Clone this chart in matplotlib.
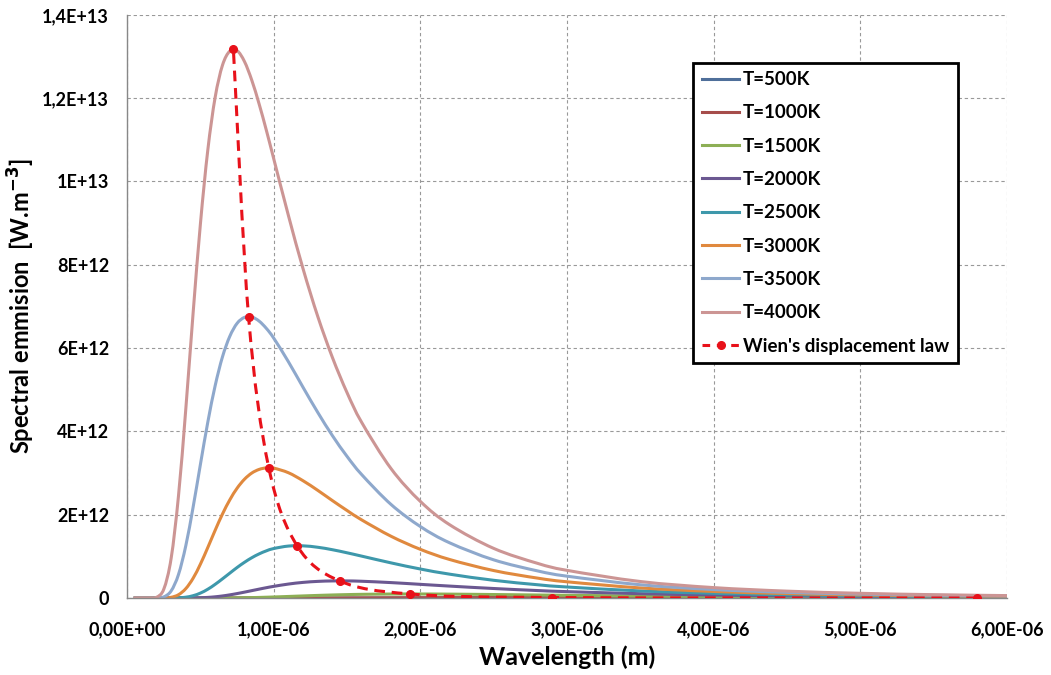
import matplotlib.pyplot as plt
import numpy as np
from matplotlib.path import Path
from matplotlib.patches import PathPatch
from matplotlib.lines import Line2D

# Wavelength [um] and spectral emission (in units of 1e12 W/m^3)
wavelength_um = [0.05, 0.1, 0.15, 0.2, 0.25, 0.3, 0.35, 0.4, 0.45, 0.5, 0.55, 0.6, 0.65, 0.7, 0.75,
                 0.8, 0.85, 0.9, 0.95, 1.0, 1.1, 1.2, 1.3, 1.4, 1.5, 1.6, 1.8, 2.0, 2.2, 2.5,
                 2.8, 3.0, 3.5, 4.0, 4.5, 5.0, 5.5, 6.0]

T500 = [0, 0, 0, 0, 0, 0, 0, 0, 0, 0, 0, 0, 0, 0, 0,
        0, 0, 0, 0, 0, 0, 0, 0, 0, 0, 0, 0, 0, 0, 0.00004,
        0.00008, 0.0001, 0.00019, 0.00028, 0.00034, 0.00038, 0.0004, 0.0004]
T1000 = [0, 0, 0, 0, 0, 0, 0, 0, 0, 0, 0, 0, 0, 0, 0,
         0, 0, 0, 0.0001, 0.0002, 0.0005, 0.0009, 0.0016, 0.0024, 0.0034, 0.0044, 0.0067, 0.0088, 0.0105, 0.0122,
         0.0128, 0.0128, 0.0119, 0.0103, 0.0086, 0.0071, 0.0059, 0.0048]
T1500 = [0, 0, 0, 0, 0, 0, 0, 0, 0, 0, 0, 0.0006, 0.0013, 0.0025, 0.0045,
         0.0071, 0.0105, 0.0149, 0.0199, 0.0255, 0.038, 0.0508, 0.063, 0.0737, 0.0824, 0.0891, 0.0965, 0.0974, 0.094, 0.0844,
         0.0731, 0.0656, 0.0491, 0.0365, 0.0273, 0.0206, 0.0158, 0.0122]
T2000 = [0, 0, 0, 0, 0, 0, 0.0001, 0.0006, 0.0023, 0.0068, 0.0155, 0.0299, 0.0503, 0.0766, 0.1077,
         0.142, 0.178, 0.214, 0.249, 0.281, 0.336, 0.376, 0.400, 0.411, 0.411, 0.403, 0.371, 0.329, 0.287, 0.229,
         0.180, 0.154, 0.105, 0.0725, 0.0514, 0.0372, 0.0275, 0.0208]
T2500 = [0, 0, 0, 0, 0, 0.0007, 0.0051, 0.0206, 0.0566, 0.120, 0.212, 0.329, 0.461, 0.598, 0.734,
         0.858, 0.968, 1.060, 1.134, 1.189, 1.248, 1.253, 1.219, 1.160, 1.086, 1.006, 0.844, 0.697, 0.573, 0.426,
         0.319, 0.265, 0.171, 0.114, 0.078, 0.055, 0.040, 0.030]
T3000 = [0, 0, 0, 0, 0.0018, 0.0176, 0.0797, 0.227, 0.477, 0.818, 1.214, 1.626, 2.017, 2.357, 2.638,
         2.852, 3.001, 3.088, 3.125, 3.118, 3.008, 2.815, 2.585, 2.339, 2.101, 1.875, 1.483, 1.169, 0.925, 0.660,
         0.478, 0.390, 0.243, 0.158, 0.107, 0.074, 0.053, 0.039]
T3500 = [0, 0, 0, 0.0014, 0.0277, 0.172, 0.565, 1.258, 2.187, 3.218, 4.223, 5.096, 5.79, 6.283, 6.596,
         6.737, 6.747, 6.648, 6.470, 6.237, 5.671, 5.056, 4.456, 3.898, 3.399, 2.962, 2.246, 1.716, 1.325, 0.917,
         0.651, 0.525, 0.319, 0.204, 0.136, 0.094, 0.067, 0.049]
T4000 = [0, 0, 0.0002, 0.018, 0.216, 0.956, 2.452, 4.544, 6.854, 9.0, 10.755, 12.018, 12.79, 13.13, 13.14,
         12.88, 12.43, 11.86, 11.22, 10.54, 9.18, 7.90, 6.76, 5.774, 4.928, 4.214, 3.106, 2.319, 1.759, 1.192,
         0.832, 0.665, 0.397, 0.251, 0.166, 0.114, 0.081, 0.059]

labels = ["T=500K", "T=1000K", "T=1500K", "T=2000K", "T=2500K", "T=3000K", "T=3500K", "T=4000K"]
colors = ["#4F6F9A", "#A64D4B", "#8DAF55", "#6B5891", "#3E98AB", "#E0893E", "#8EA8CC", "#CC9594"]
series = [T500, T1000, T1500, T2000, T2500, T3000, T3500, T4000]

# Wien's displacement law points (peak of each curve)
wien_um = [5.796, 2.898, 1.932, 1.449, 1.159, 0.966, 0.828, 0.7245]
wien_val = [0.0004, 0.0129, 0.0977, 0.4116, 1.256, 3.125, 6.755, 13.17]
wien_label = "Wien's displacement law"

xticks = [0, 1e-6, 2e-6, 3e-6, 4e-6, 5e-6, 6e-6]
xtick_labels = ["0,00E+00", "1,00E-06", "2,00E-06", "3,00E-06", "4,00E-06", "5,00E-06", "6,00E-06"]
yticks = [0, 2e12, 4e12, 6e12, 8e12, 1e13, 1.2e13, 1.4e13]
ytick_labels = ["0", "2E+12", "4E+12", "6E+12", "8E+12", "1E+13", "1,2E+13", "1,4E+13"]


def smooth_path(x, y):
    # smoothed line through the points (cubic Bezier segments, like a spreadsheet "smoothed line")
    p = np.column_stack([x, y])
    n = len(p)
    verts = [p[0]]
    codes = [Path.MOVETO]
    for i in range(n - 1):
        t0 = (p[min(i + 1, n - 1)] - p[max(i - 1, 0)]) / 2
        t1 = (p[min(i + 2, n - 1)] - p[i]) / 2
        verts += [p[i] + t0 / 3, p[i + 1] - t1 / 3, p[i + 1]]
        codes += [Path.CURVE4] * 3
    return Path(verts, codes)


plt.rcParams['font.family'] = ['Lato', 'DejaVu Sans']
plt.rcParams['font.weight'] = 'bold'

fig = plt.figure(figsize=(10.51, 6.75), dpi=100)
ax = fig.add_axes([0.121, 0.114, 0.837, 0.864])

lam = np.array(wavelength_um) * 1e-6
handles = []
for vals, lab, col in zip(series, labels, colors):
    ax.add_patch(PathPatch(smooth_path(lam, np.array(vals) * 1e12), fill=False,
                           edgecolor=col, lw=2.2, capstyle='round', joinstyle='round'))
    handles.append(Line2D([], [], color=col, lw=2.2, label=lab))

wien_x = np.array(wien_um) * 1e-6
wien_y = np.array(wien_val) * 1e12
ax.add_patch(PathPatch(smooth_path(wien_x, wien_y), fill=False, edgecolor='#E8111A', lw=2.2,
                       linestyle=(0, (3.5, 2.2)), zorder=5))
ax.plot(wien_x, wien_y, linestyle='none', marker='o', markersize=5.5, color='#E8111A', zorder=6)
handles.append(Line2D([], [], color='#E8111A', lw=2.2, linestyle=(0, (2.5, 2.2)), marker='o',
                      markersize=5.5, label=wien_label))

ax.set_xlim(0, 6e-6)
ax.set_ylim(0, 1.4e13)
ax.set_xticks(xticks)
ax.set_xticklabels(xtick_labels)
ax.set_yticks(yticks)
ax.set_yticklabels(ytick_labels)
ax.tick_params(length=0, labelsize=13)
ax.tick_params(axis='x', pad=17)
ax.tick_params(axis='y', pad=13)
for lbl in ax.get_xticklabels() + ax.get_yticklabels():
    lbl.set_fontweight('bold')

ax.grid(True, color='#999999', linestyle=(0, (3, 2.5)), linewidth=0.8)
ax.set_axisbelow(True)
for s in ['top', 'right']:
    ax.spines[s].set_visible(False)
for s in ['left', 'bottom']:
    ax.spines[s].set_color('#888888')
    ax.spines[s].set_linewidth(1.0)

ax.set_xlabel("Wavelength (m)", fontsize=18, fontweight='bold', labelpad=5)
ax.set_ylabel("Spectral emmision  [W.m$^{\\mathbf{-3}}$]", fontsize=17, fontweight='bold')
ax.yaxis.set_label_coords(-0.102, 0.5)

leg = ax.legend(handles=handles, loc='upper right', bbox_to_anchor=(0.944, 0.918), fancybox=False,
                edgecolor='black', framealpha=1, handlelength=2.0, handletextpad=0.2, labelspacing=0.87,
                borderpad=0.45, borderaxespad=0, prop={'weight': 'bold', 'size': 13.5})
leg.get_frame().set_linewidth(2.0)

fig.savefig("out.png", dpi=100)
